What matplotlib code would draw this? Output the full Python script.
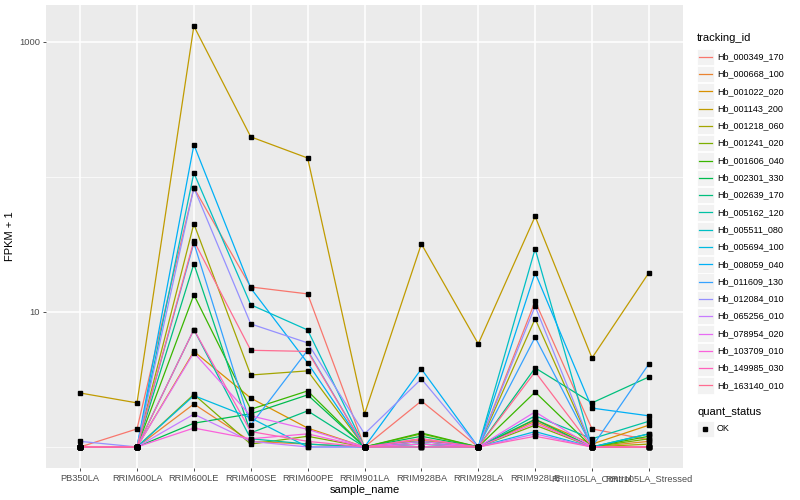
import numpy as np
import matplotlib.pyplot as plt
from matplotlib.patches import Rectangle
from matplotlib.lines import Line2D

plt.rcParams['font.family'] = ['Liberation Sans', 'DejaVu Sans']

samples = ["PB350LA", "RRIM600LA", "RRIM600LE", "RRIM600SE", "RRIM600PE", "RRIM901LA",
           "RRIM928BA", "RRIM928LA", "RRIM928LE", "RRII105LA_Control", "RRII105LA_Stressed"]

tracking_ids = ["Hb_000349_170", "Hb_000668_100", "Hb_001022_020", "Hb_001143_200",
                "Hb_001218_060", "Hb_001241_020", "Hb_001606_040", "Hb_002301_330",
                "Hb_002639_170", "Hb_005162_120", "Hb_005511_080", "Hb_005694_100",
                "Hb_008059_040", "Hb_011609_130", "Hb_012084_010", "Hb_065256_010",
                "Hb_078954_020", "Hb_103709_010", "Hb_149985_030", "Hb_163140_010"]

# ggplot default hue palette for 20 groups
colors = ["#F8766D", "#EA8331", "#D89000", "#C09B00", "#A3A500", "#7CAE00", "#39B600",
          "#00BB4E", "#00BF7D", "#00C1A3", "#00BFC4", "#00BAE0", "#00B0F6", "#35A2FF",
          "#9590FF", "#C77CFF", "#E76BF3", "#FA62DB", "#FF62BC", "#FF6C91"]

# FPKM + 1, one list per tracking_id, in sample order
fpkm_000349_170 = [1.0, 1.36, 83, 15.3, 13.6, 1.0, 2.19, 1.0, 12.0, 1.36, 1.13]
fpkm_000668_100 = [1.0, 1.0, 2.08, 1.1, 1.05, 1.0, 1.12, 1.0, 1.55, 1.0, 1.1]
fpkm_001022_020 = [1.0, 1.0, 5.1, 2.3, 1.38, 1.0, 1.15, 1.0, 1.6, 1.05, 1.45]
fpkm_001143_200 = [2.51, 2.12, 1310, 198, 138, 1.75, 31.9, 5.8, 51, 4.56, 19.5]
fpkm_001218_060 = [1.0, 1.0, 45, 3.41, 3.66, 1.0, 1.1, 1.0, 8.9, 1.0, 1.05]
fpkm_001241_020 = [1.0, 1.0, 2.45, 1.05, 1.2, 1.0, 1.25, 1.0, 1.45, 1.0, 1.15]
fpkm_001606_040 = [1.0, 1.0, 13.4, 1.9, 2.6, 1.0, 1.27, 1.0, 2.55, 1.0, 1.2]
fpkm_002301_330 = [1.0, 1.0, 1.5, 1.76, 2.43, 1.0, 1.2, 1.0, 1.6, 1.0, 1.25]
fpkm_002639_170 = [1.0, 1.0, 22.7, 1.27, 1.85, 1.0, 1.1, 1.0, 3.85, 2.12, 3.3]
fpkm_005162_120 = [1.0, 1.0, 7.4, 1.15, 1.05, 1.0, 1.05, 1.0, 1.7, 1.15, 1.55]
fpkm_005511_080 = [1.0, 1.0, 107, 11.3, 7.35, 1.0, 1.05, 1.0, 29.3, 1.0, 1.0]
fpkm_005694_100 = [1.0, 1.0, 2.4, 1.64, 1.0, 1.0, 1.0, 1.0, 1.3, 1.0, 1.25]
fpkm_008059_040 = [1.0, 1.0, 173, 15.0, 4.19, 1.0, 3.78, 1.0, 19.5, 1.94, 1.7]
fpkm_011609_130 = [1.0, 1.0, 32.4, 1.45, 5.2, 1.0, 1.0, 1.0, 6.5, 1.0, 4.12]
fpkm_012084_010 = [1.1, 1.0, 83, 8.15, 5.9, 1.25, 3.19, 1.0, 11.0, 1.0, 1.0]
fpkm_065256_010 = [1.0, 1.0, 1.75, 1.1, 1.0, 1.0, 1.0, 1.0, 1.25, 1.0, 1.0]
fpkm_078954_020 = [1.0, 1.0, 5.0, 1.7, 1.35, 1.0, 1.1, 1.0, 1.82, 1.0, 1.0]
fpkm_103709_010 = [1.0, 1.0, 1.38, 1.15, 1.25, 1.0, 1.05, 1.0, 1.5, 1.0, 1.0]
fpkm_149985_030 = [1.0, 1.0, 7.4, 1.3, 1.1, 1.0, 1.15, 1.0, 1.2, 1.0, 1.0]
fpkm_163140_010 = [1.0, 1.0, 33.6, 5.2, 5.1, 1.0, 1.0, 1.0, 3.6, 1.0, 1.0]

series = [fpkm_000349_170, fpkm_000668_100, fpkm_001022_020, fpkm_001143_200,
          fpkm_001218_060, fpkm_001241_020, fpkm_001606_040, fpkm_002301_330,
          fpkm_002639_170, fpkm_005162_120, fpkm_005511_080, fpkm_005694_100,
          fpkm_008059_040, fpkm_011609_130, fpkm_012084_010, fpkm_065256_010,
          fpkm_078954_020, fpkm_103709_010, fpkm_149985_030, fpkm_163140_010]

W, H = 800, 500
fig = plt.figure(figsize=(8, 5), dpi=100)
ax = fig.add_axes([46 / W, 1 - 468 / H, (683 - 46) / W, (468 - 5) / H])
ax.set_facecolor("#EBEBEB")

x = np.arange(len(samples))
for vals, col in zip(series, colors):
    ax.plot(x, vals, color=col, lw=0.9, zorder=3)
for vals in series:
    ax.plot(x, vals, ls="none", marker="s", ms=2.2, color="black", zorder=4)

ax.set_yscale("log")
all_vals = np.concatenate([np.array(s) for s in series])
lo, hi = np.log10(all_vals.min()), np.log10(all_vals.max())
pad = (hi - lo) * 0.05
ax.set_ylim(10 ** (lo - pad), 10 ** (hi + pad))
ax.set_xlim(-0.6, len(samples) - 0.4)

ax.set_yticks([10, 1000])
ax.set_yticklabels(["10", "1000"])
ax.set_yticks([1, 100], minor=True)
ax.yaxis.set_minor_formatter(plt.NullFormatter())
ax.set_xticks(x)
ax.set_xticklabels(samples)

ax.grid(True, which="major", color="white", lw=1.1, zorder=0)
ax.grid(True, which="minor", axis="y", color="white", lw=0.5, zorder=0)
ax.set_axisbelow(True)
for sp in ax.spines.values():
    sp.set_visible(False)
ax.tick_params(which="major", length=2.5, width=0.6, color="#333333",
               labelsize=6.7, labelcolor="#4D4D4D", pad=2)
ax.tick_params(which="minor", length=0)

ax.set_xlabel("sample_name", fontsize=8, labelpad=1)
ax.set_ylabel("FPKM + 1", fontsize=8, labelpad=3)


def fx(px):
    return px / W


def fy(py):
    return 1 - py / H


# legend: tracking_id
fig.text(fx(697), fy(38), "tracking_id", fontsize=8, va="center", ha="left")
for i, (tid, col) in enumerate(zip(tracking_ids, colors)):
    cy = 56.7 + i * 17.3
    fig.patches.append(Rectangle((fx(697), fy(cy + 8.2)), 16.5 / W, 16.4 / H,
                                 transform=fig.transFigure, facecolor="#F2F2F2",
                                 edgecolor="white", lw=0.6))
    fig.lines.append(Line2D([fx(699), fx(712)], [fy(cy), fy(cy)], color=col, lw=0.9,
                            transform=fig.transFigure))
    fig.text(fx(717), fy(cy), tid, fontsize=6.5, va="center", ha="left")

# legend: quant_status
fig.text(fx(697), fy(412), "quant_status", fontsize=8, va="center", ha="left")
fig.patches.append(Rectangle((fx(697), fy(437)), 16.5 / W, 16.4 / H,
                             transform=fig.transFigure, facecolor="#F2F2F2",
                             edgecolor="white", lw=0.6))
fig.lines.append(Line2D([fx(705)], [fy(428.7)], marker="s", ms=2.2, color="black",
                        ls="none", transform=fig.transFigure))
fig.text(fx(717), fy(428.7), "OK", fontsize=6.5, va="center", ha="left")

fig.savefig("out.png", dpi=100)
